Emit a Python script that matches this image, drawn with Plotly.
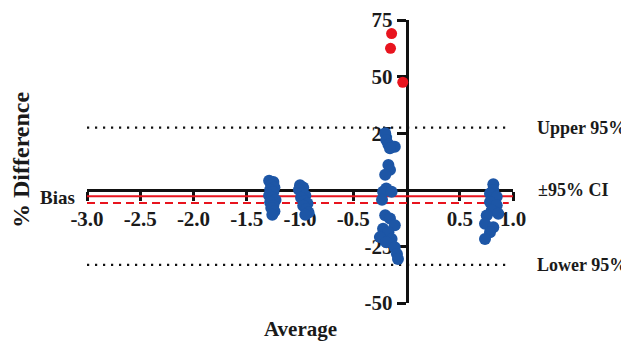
import plotly.graph_objects as go

# ---- data ----
blue_x = [-1.29, -1.25, -1.27, -1.24, -1.28, -1.25, -1.29, -1.26, -1.23, -1.28, -1.25, -1.27, -1.24, -1.26,
          -1.00, -0.97, -1.01, -0.98, -0.95, -0.99, -0.96, -0.93, -0.97, -0.94, -0.92, -0.95,
          -0.20, -0.19, -0.17, -0.11, -0.155, -0.17, -0.155, -0.20, -0.19, -0.22, -0.14, -0.23,
          -0.20, -0.155, -0.11, -0.22, -0.17, -0.25, -0.14, -0.19, -0.11, -0.09, -0.08,
          0.815, 0.815, 0.784, 0.847, 0.784, 0.847, 0.80, 0.862, 0.753, 0.737, 0.815, 0.784, 0.737]
blue_y = [4.0, 3.5, 2.0, 1.0, 0.0, -1.0, -2.5, -3.5, -4.5, -5.5, -7.0, -8.0, -9.5, -11.0,
          2.0, 1.0, 0.0, -1.5, -2.5, -3.5, -5.0, -6.0, -7.0, -8.5, -10.0, -11.0,
          25.0, 22.0, 20.0, 19.0, 18.4, 11.0, 8.8, 6.6, 0.6, -0.9, -0.9, -4.4,
          -11.2, -12.7, -15.7, -17.2, -18.7, -20.9, -21.7, -23.2, -25.4, -28.4, -30.6,
          2.5, -0.1, -1.6, -3.1, -5.4, -6.8, -9.1, -10.6, -11.3, -15.0, -16.5, -18.8, -21.7]
red_x = [-0.14, -0.15, -0.035]
red_y = [69.0, 62.5, 47.5]

bias = -2.9
ci_lower = -5.8
upper_loa = 27.5
lower_loa = -33.2

x_tickvals = [-3.0, -2.5, -2.0, -1.5, -1.0, -0.5, 0.5, 1.0]
x_ticktext = ["-3.0", "-2.5", "-2.0", "-1.5", "-1.0", "-0.5", "0.5", "1.0"]
y_tickvals = [75, 50, 25, -25, -50]
y_ticktext = ["75", "50", "25", "-25", "-50"]

x_range = [-3.0, 1.0]
y_range = [-50, 75]

SERIF = "Liberation Serif, Times New Roman, serif"
BLUE = "#1d56a6"
RED = "#e8141e"
INK = "#1a1a1a"

fig = go.Figure()

# limits of agreement (dotted)
for yv in (upper_loa, lower_loa):
    fig.add_trace(go.Scatter(x=[-3.0, 0.95], y=[yv, yv], mode="lines",
                             line=dict(color="#111111", width=2.2, dash="2.2px,5.8px"),
                             hoverinfo="skip", showlegend=False))
# bias (solid red) and CI (dashed red)
fig.add_trace(go.Scatter(x=[-3.0, 1.0], y=[bias, bias], mode="lines",
                         line=dict(color=RED, width=2), hoverinfo="skip", showlegend=False))
fig.add_trace(go.Scatter(x=[-3.0, 0.96], y=[ci_lower, ci_lower], mode="lines",
                         line=dict(color=RED, width=2, dash="8px,5px"), hoverinfo="skip", showlegend=False))

fig.add_trace(go.Scatter(x=blue_x, y=blue_y, mode="markers",
                         marker=dict(color=BLUE, size=12, line=dict(width=0)), showlegend=False))
fig.add_trace(go.Scatter(x=red_x, y=red_y, mode="markers",
                         marker=dict(color=RED, size=11, line=dict(width=0)), showlegend=False))

x_pos = (0 - y_range[0]) / (y_range[1] - y_range[0])
y_pos = (0 - x_range[0]) / (x_range[1] - x_range[0])

# page body has an 8px margin; figure is offset by it
fig.update_layout(
    width=621, height=333,
    margin=dict(l=79, r=116, t=12, b=38, pad=0, autoexpand=False),
    paper_bgcolor="white", plot_bgcolor="white",
    font=dict(family=SERIF, color=INK),
    xaxis=dict(range=x_range, anchor="free", position=x_pos, showgrid=False, zeroline=False,
               automargin=False,
               showline=True, linecolor="#111111", linewidth=2.5,
               ticks="outside", ticklen=9, tickwidth=2.5, tickcolor="#111111",
               tickvals=x_tickvals, ticktext=x_ticktext, layer="below traces",
               tickfont=dict(family=SERIF, size=21, color=INK, weight="bold")),
    yaxis=dict(range=y_range, anchor="free", position=y_pos, showgrid=False, zeroline=False,
               automargin=False,
               showline=True, linecolor="#111111", linewidth=2.5,
               ticks="outside", ticklen=9, tickwidth=2.5, tickcolor="#111111",
               tickvals=y_tickvals, ticktext=y_ticktext, layer="below traces",
               tickfont=dict(family=SERIF, size=21, color=INK, weight="bold")),
)

ann_font = dict(family=SERIF, size=18, color=INK, weight="bold")
fig.add_annotation(x=1.0, y=upper_loa, xref="x", yref="y", text="Upper 95%", showarrow=False,
                   xanchor="left", yanchor="middle", xshift=22, font=ann_font)
fig.add_annotation(x=1.0, y=0, xref="x", yref="y", text="±95% CI", showarrow=False,
                   xanchor="left", yanchor="middle", xshift=23, font=ann_font)
fig.add_annotation(x=1.0, y=lower_loa, xref="x", yref="y", text="Lower 95%", showarrow=False,
                   xanchor="left", yanchor="middle", xshift=22, font=ann_font)
fig.add_annotation(x=-3.0, y=bias, xref="x", yref="y", text="Bias", showarrow=False,
                   xanchor="right", yanchor="middle", xshift=-10, yshift=-1,
                   font=dict(family=SERIF, size=19, color=INK, weight="bold"))
fig.add_annotation(x=0.5, y=0, xref="paper", yref="paper", text="Average", showarrow=False,
                   xanchor="center", yanchor="middle", yshift=-26,
                   font=dict(family=SERIF, size=21, color=INK, weight="bold"))
fig.add_annotation(x=0, y=(295 - 152) / 283, xref="paper", yref="paper", text="% Difference", showarrow=False,
                   xanchor="center", yanchor="middle", xshift=-66, textangle=-90,
                   font=dict(family=SERIF, size=24, color=INK, weight="bold"))

fig.write_html("out.html")
